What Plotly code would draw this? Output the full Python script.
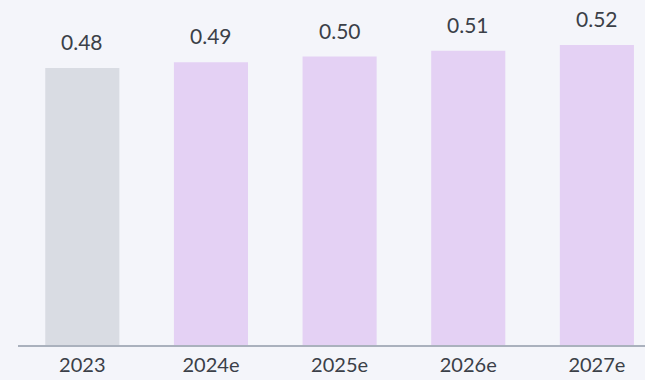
import plotly.graph_objects as go

# Yearly values (2024 onward are estimates)
years = ["2023", "2024e", "2025e", "2026e", "2027e"]
values = [0.48, 0.49, 0.50, 0.51, 0.52]
bar_colors = ["#d9dce3", "#e4d1f4", "#e4d1f4", "#e4d1f4", "#e4d1f4"]

FONT = "Lato, Inter, sans-serif"
TEXT_COLOR = "#3b4048"

fig = go.Figure(
    go.Bar(
        x=years,
        y=values,
        marker=dict(color=bar_colors, line=dict(width=0)),
        width=0.576,
        hoverinfo="skip",
    )
)

# Value labels above each bar (x given as category index)
for i, v in enumerate(values):
    fig.add_annotation(
        x=i, y=v, text=f"{v:.2f}", showarrow=False,
        yanchor="bottom", yshift=12,
        font=dict(family=FONT, size=21, color=TEXT_COLOR),
    )

fig.update_layout(
    width=645,
    height=380,
    margin=dict(l=18, r=0, t=0, b=35, autoexpand=False),
    paper_bgcolor="#f4f5fa",
    plot_bgcolor="#f4f5fa",
    showlegend=False,
    xaxis=dict(
        type="category",
        range=[-0.5, 4.374],
        automargin=False,
        showline=True,
        linecolor="#aab1bd",
        linewidth=2,
        showgrid=False,
        ticks="",
        ticklabelstandoff=1,
        tickfont=dict(family=FONT, size=20, color=TEXT_COLOR),
    ),
    yaxis=dict(
        range=[0, 0.598],
        visible=False,
        showgrid=False,
        zeroline=False,
    ),
)

fig.write_html("out.html")
